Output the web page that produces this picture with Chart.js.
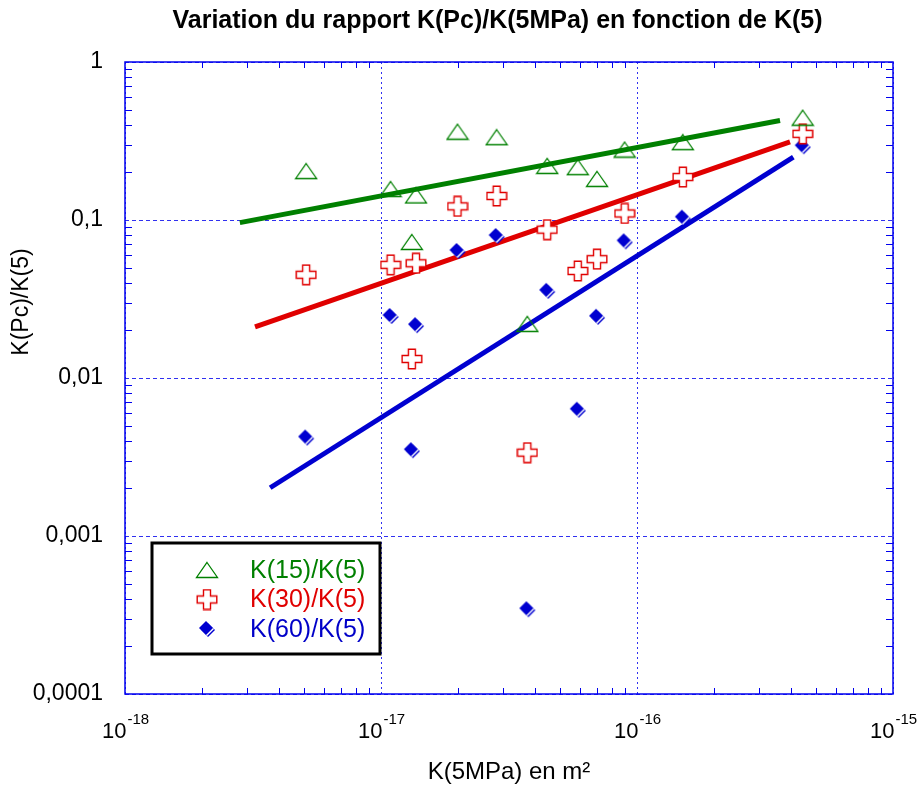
<!DOCTYPE html>
<html>
<head>
<meta charset="utf-8">
<title>Variation du rapport K(Pc)/K(5MPa)</title>
<script src="https://cdn.jsdelivr.net/npm/chart.js@4.4.1/dist/chart.umd.min.js"></script>
<style>
  html, body { margin: 0; padding: 0; background: #fff; }
  #wrap { width: 923px; height: 791px; position: relative; }
</style>
</head>
<body>
<div id="wrap"><canvas id="myChart"></canvas></div>
<script>
// chart data
var chartTitle = 'Variation du rapport K(Pc)/K(5MPa) en fonction de K(5)';
var xTitle = 'K(5MPa) en m²';
var yTitle = 'K(Pc)/K(5)';

// K at 5 MPa for each sample (m2)
var permK5 = [5.1e-18, 1.09e-17, 1.32e-17, 1.37e-17, 1.99e-17, 2.83e-17, 3.73e-17, 4.46e-17, 5.87e-17, 6.98e-17, 8.95e-17, 1.51e-16, 4.44e-16];
var ratio15 = [0.204, 0.157, 0.0726, 0.143, 0.362, 0.334, 0.022, 0.220, 0.216, 0.182, 0.279, 0.311, 0.444];
var ratio30 = [0.045, 0.052, 0.0132, 0.0532, 0.122, 0.142, 0.00337, 0.0869, 0.0476, 0.0565, 0.110, 0.187, 0.351];
var ratio60 = [0.0042, 0.0247, 0.00349, 0.0216, 0.0637, 0.0792, 0.000344, 0.0356, 0.0063, 0.0244, 0.0733, 0.1035, 0.293];

// trend lines (start / end)
var fitX15 = [2.81e-18, 3.62e-16];
var fitY15 = [0.0962, 0.426];
var fitX30 = [3.22e-18, 3.96e-16];
var fitY30 = [0.0211, 0.312];
var fitX60 = [3.69e-18, 4.08e-16];
var fitY60 = [0.00202, 0.250];

var seriesLabels = ['K(15)/K(5)', 'K(30)/K(5)', 'K(60)/K(5)'];

// ticks
var xTickValues = [1e-18, 1e-17, 1e-16, 1e-15];
var xTickBase = '10';
var xTickExps = ['-18', '-17', '-16', '-15'];
var yTickValues = [1, 0.1, 0.01, 0.001, 0.0001];
var yTickLabels = ['1', '0,1', '0,01', '0,001', '0,0001'];

var GREEN = '#008000', RED = '#e00000', BLUE = '#0000d0';
var GRID = '#3030f0';
var FONT = "'Liberation Sans', Arial, sans-serif";

function toPoints(xs, ys) {
    return xs.map(function (x, i) { return {x: x, y: ys[i]}; });
}

// marker images
function triangleImg() {
    var c = document.createElement('canvas');
    c.width = 24; c.height = 18;
    var g = c.getContext('2d');
    g.beginPath();
    g.moveTo(12, 1.5); g.lineTo(22.5, 16.5); g.lineTo(1.5, 16.5); g.closePath();
    g.strokeStyle = GREEN; g.lineWidth = 1.3;
    g.stroke();
    return c;
}
function crossImg() {
    var c = document.createElement('canvas');
    c.width = 22; c.height = 22;
    var g = c.getContext('2d');
    var a = 7.5, b = 14.5, lo = 1.2, hi = 20.8;
    g.beginPath();
    g.moveTo(a, lo); g.lineTo(b, lo); g.lineTo(b, a); g.lineTo(hi, a); g.lineTo(hi, b);
    g.lineTo(b, b); g.lineTo(b, hi); g.lineTo(a, hi); g.lineTo(a, b); g.lineTo(lo, b);
    g.lineTo(lo, a); g.lineTo(a, a); g.closePath();
    g.fillStyle = '#fff'; g.fill();
    g.strokeStyle = RED; g.lineWidth = 1.4; g.stroke();
    return c;
}
function diamondImg() {
    var c = document.createElement('canvas');
    c.width = 18; c.height = 18;
    var g = c.getContext('2d');
    function dia(o, col) {
        g.beginPath();
        g.moveTo(8 + o, 1 + o); g.lineTo(15 + o, 8 + o); g.lineTo(8 + o, 15 + o); g.lineTo(1 + o, 8 + o);
        g.closePath(); g.fillStyle = col; g.fill();
    }
    dia(2, BLUE);
    dia(1, '#ffffff');
    dia(0, BLUE);
    return c;
}

var markers = [triangleImg(), crossImg(), diamondImg()];
var textColors = [GREEN, RED, '#0000c8'];

// minor ticks, frame, x tick labels, y title and legend box
var decor = {
    id: 'decor',
    afterLayout: function (chart) {
        // title sits a bit left of the plot centre
        var t = chart.titleBlock, ca = chart.chartArea;
        if (t && ca) {
            var w = t.right - t.left;
            var c = (ca.left + ca.right) / 2 - 11.5;
            t.left = c - w / 2;
            t.right = c + w / 2;
        }
    },
    afterDraw: function (chart) {
        var ctx = chart.ctx, ca = chart.chartArea;
        var xs = chart.scales.x, ys = chart.scales.y;
        ctx.save();
        ctx.strokeStyle = '#0000ee';
        ctx.lineWidth = 1;
        ctx.beginPath();
        for (var e = -18; e < -15; e++) {
            for (var m = 2; m < 10; m++) {
                var px = Math.round(xs.getPixelForValue(m * Math.pow(10, e))) + 0.5;
                ctx.moveTo(px, ca.bottom); ctx.lineTo(px, ca.bottom - 6);
                ctx.moveTo(px, ca.top); ctx.lineTo(px, ca.top + 6);
            }
        }
        for (var e2 = -4; e2 < 0; e2++) {
            for (var m2 = 2; m2 < 10; m2++) {
                var py = Math.round(ys.getPixelForValue(m2 * Math.pow(10, e2))) + 0.5;
                ctx.moveTo(ca.left, py); ctx.lineTo(ca.left + 7, py);
                ctx.moveTo(ca.right, py); ctx.lineTo(ca.right - 7, py);
            }
        }
        ctx.stroke();
        // frame
        ctx.lineWidth = 1.5;
        ctx.strokeRect(ca.left, ca.top, ca.right - ca.left, ca.bottom - ca.top);

        // x tick labels as 10 with a raised exponent
        ctx.fillStyle = '#000';
        ctx.textBaseline = 'alphabetic';
        ctx.textAlign = 'left';
        xTickValues.forEach(function (v, i) {
            var cx = xs.getPixelForValue(v);
            ctx.font = '22px ' + FONT;
            var wb = ctx.measureText(xTickBase).width;
            ctx.font = '15px ' + FONT;
            var we = ctx.measureText(xTickExps[i]).width;
            var x0 = cx - (wb + we) / 2;
            ctx.font = '22px ' + FONT;
            ctx.fillText(xTickBase, x0, ca.bottom + 44);
            ctx.font = '15px ' + FONT;
            ctx.fillText(xTickExps[i], x0 + wb + 1, ca.bottom + 30);
        });

        // y axis title
        ctx.font = '23px ' + FONT;
        ctx.textAlign = 'center';
        ctx.textBaseline = 'middle';
        ctx.translate(22, ca.top + 240);
        ctx.rotate(-Math.PI / 2);
        ctx.fillText(yTitle, 0, 0);
        ctx.setTransform(1, 0, 0, 1, 0, 0);

        // legend box
        var bx = ca.left + 27, by = ca.top + 481, bw = 228, bh = 111;
        ctx.fillStyle = '#fff';
        ctx.fillRect(bx, by, bw, bh);
        ctx.strokeStyle = '#000';
        ctx.lineWidth = 3;
        ctx.strokeRect(bx, by, bw, bh);
        ctx.font = '25px ' + FONT;
        ctx.textAlign = 'left';
        for (var i = 0; i < 3; i++) {
            var ry = by + 27 + i * 29.5;
            var img = markers[i];
            ctx.drawImage(img, bx + 55 - img.width / 2, ry - img.height / 2);
            ctx.fillStyle = textColors[i];
            ctx.fillText(seriesLabels[i], bx + 98, ry + 1);
        }
        ctx.restore();
    }
};

var ctx = document.getElementById('myChart').getContext('2d');
var myChart = new Chart(ctx, {
    type: 'scatter',
    data: {
        datasets: [
            {label: 'fit15', data: toPoints(fitX15, fitY15), showLine: true, pointRadius: 0, borderColor: GREEN, borderWidth: 5, order: 2},
            {label: 'fit30', data: toPoints(fitX30, fitY30), showLine: true, pointRadius: 0, borderColor: RED, borderWidth: 5, order: 2},
            {label: 'fit60', data: toPoints(fitX60, fitY60), showLine: true, pointRadius: 0, borderColor: BLUE, borderWidth: 5, order: 2},
            {label: seriesLabels[0], data: toPoints(permK5, ratio15), pointStyle: markers[0], order: 1},
            {label: seriesLabels[1], data: toPoints(permK5, ratio30), pointStyle: markers[1], order: 1},
            {label: seriesLabels[2], data: toPoints(permK5, ratio60), pointStyle: markers[2], order: 1}
        ]
    },
    options: {
        responsive: true,
        maintainAspectRatio: false,
        animation: false,
        events: [],
        layout: {padding: {left: 0, right: 30, top: 0, bottom: 0}},
        plugins: {
            legend: {display: false},
            tooltip: {enabled: false},
            title: {
                display: true,
                text: chartTitle,
                color: '#000',
                font: {family: FONT, size: 25, weight: 'bold'},
                padding: {top: 6, bottom: 26}
            }
        },
        scales: {
            x: {
                type: 'logarithmic',
                min: 1e-18,
                max: 1e-15,
                afterBuildTicks: function (s) { s.ticks = xTickValues.map(function (v) { return {value: v}; }); },
                afterFit: function (s) { s.height = 97; },
                ticks: {display: false},
                grid: {color: GRID, lineWidth: 1, drawTicks: false},
                border: {display: false, dash: [2, 3]},
                title: {display: true, text: xTitle, color: '#000', font: {family: FONT, size: 24}, padding: {top: 0, bottom: 4}}
            },
            y: {
                type: 'logarithmic',
                min: 0.0001,
                max: 1,
                afterBuildTicks: function (s) { s.ticks = yTickValues.map(function (v) { return {value: v}; }); },
                afterFit: function (s) { s.width = 125; },
                ticks: {
                    color: '#000',
                    font: {family: FONT, size: 23},
                    padding: 22,
                    callback: function (v) { return yTickLabels[yTickValues.indexOf(v)]; }
                },
                grid: {color: GRID, lineWidth: 1, drawTicks: false},
                border: {display: false, dash: [4, 3]}
            }
        }
    },
    plugins: [decor]
});
</script>
</body>
</html>
